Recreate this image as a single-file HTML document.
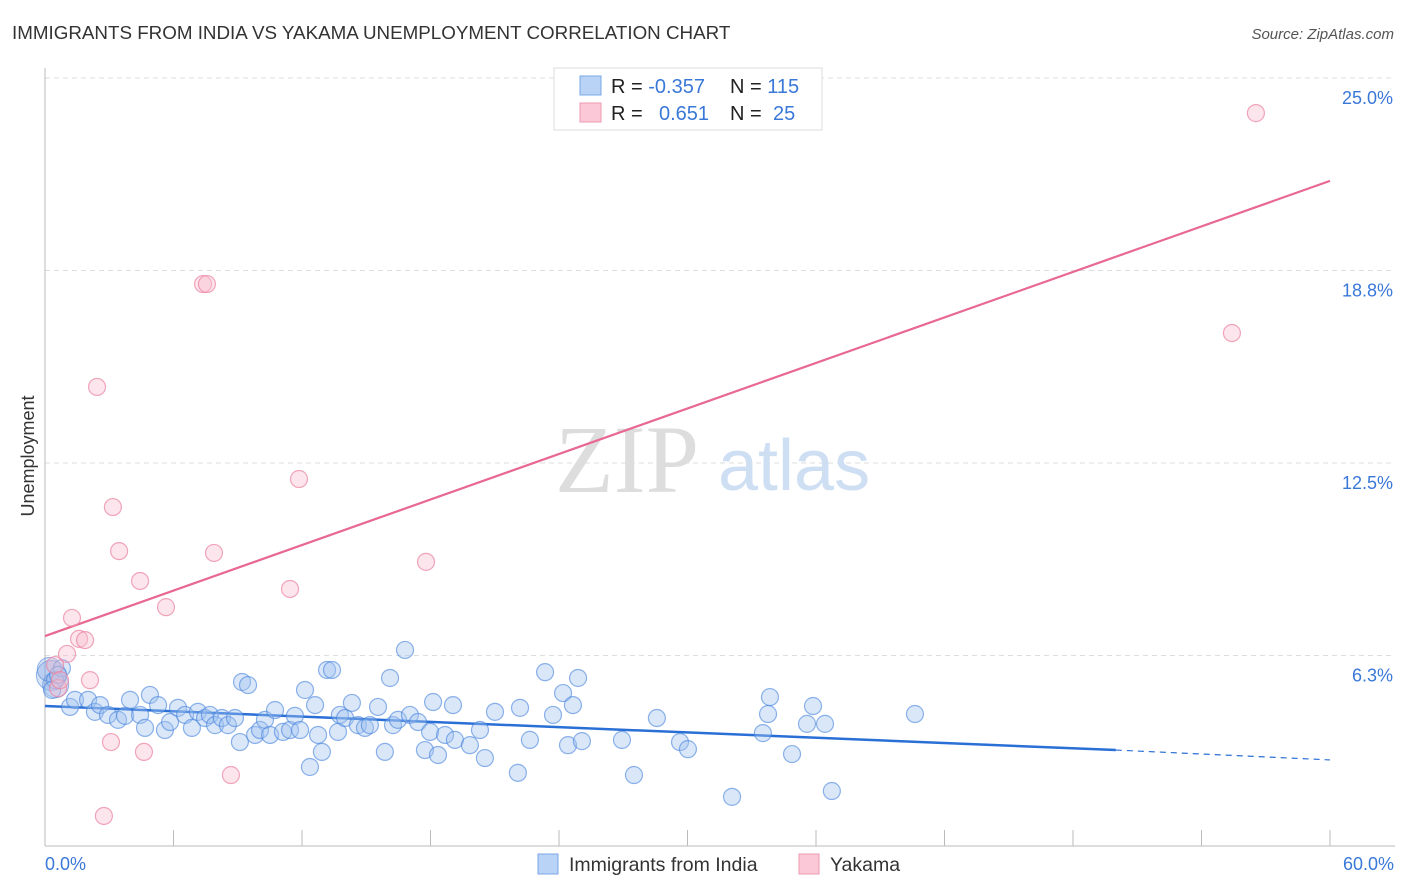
<!DOCTYPE html>
<html><head><meta charset="utf-8">
<style>
body{margin:0;background:#fff;font-family:"Liberation Sans",sans-serif;}
#wrap{position:relative;width:1406px;height:892px;overflow:hidden;}
</style></head>
<body>
<div id="wrap">
<svg id="svg" width="1406" height="892" xmlns="http://www.w3.org/2000/svg">
<text x="12" y="39" font-size="18.8" fill="#333">IMMIGRANTS FROM INDIA VS YAKAMA UNEMPLOYMENT CORRELATION CHART</text>
<text x="1394" y="39" font-size="15" fill="#555" text-anchor="end" font-style="italic">Source: ZipAtlas.com</text>
<text x="34" y="456" font-size="18" fill="#333" text-anchor="middle" transform="rotate(-90 34 456)">Unemployment</text>
<g id="grid"></g>
<text x="555" y="492" font-size="96" fill="#ddd" font-family="Liberation Serif,serif">ZIP</text>
<text x="718" y="490" font-size="72" fill="#cfdff3">atlas</text>
<g id="lines"></g>
<g id="pts"></g>
<g>
<rect x="554" y="68" width="268" height="62" fill="#fff" stroke="#ddd"/>
<rect x="580" y="76" width="21" height="19" fill="#b8d3f5" stroke="#7aa7e6"/>
<rect x="580" y="103" width="21" height="19" fill="#fac8d6" stroke="#ef9ab3"/>
<text x="611" y="93" font-size="20" fill="#222">R = <tspan fill="#3a78d8">-0.357</tspan></text>
<text x="730" y="93" font-size="20" fill="#222">N = <tspan fill="#3a78d8">115</tspan></text>
<text x="611" y="120" font-size="20" fill="#222">R = <tspan fill="#3a78d8" x="659">0.651</tspan></text>
<text x="730" y="120" font-size="20" fill="#222">N = <tspan fill="#3a78d8" x="773">25</tspan></text>
</g>
<g>
<rect x="538" y="854" width="20" height="20" fill="#b8d3f5" stroke="#7aa7e6"/>
<text x="569" y="871" font-size="19.5" fill="#333">Immigrants from India</text>
<rect x="799" y="854" width="20" height="20" fill="#fac8d6" stroke="#ef9ab3"/>
<text x="830" y="871" font-size="19.5" fill="#333">Yakama</text>
</g>
</svg>
</div>
<script>
const yTicks=[6.3,12.5,18.8,25.0];
const yTickVals=[6.25,12.5,18.75,25];
const xTickLabels=["0.0%","60.0%"];
const blueX=[0.47,0.33,0.79,0.61,1.17,1.40,2.01,2.33,2.57,2.94,3.41,3.74,3.97,4.44,4.67,4.90,5.28,5.60,5.84,6.21,6.54,6.86,7.14,7.47,7.70,7.94,8.26,8.54,8.87,9.10,9.20,9.48,9.81,10.04,10.27,10.51,10.74,11.11,11.44,11.67,11.91,12.14,12.37,12.61,12.75,12.93,13.17,13.40,13.68,13.77,14.01,14.33,14.61,14.94,15.17,15.55,15.87,16.11,16.25,16.48,16.81,17.04,17.42,17.74,17.98,18.12,18.35,18.68,19.05,19.14,19.84,20.31,20.54,21.01,22.08,22.18,22.64,23.35,23.72,24.19,24.42,24.65,24.89,25.07,26.94,27.50,28.57,29.65,30.02,32.08,33.52,33.76,33.85,34.88,35.58,35.86,36.42,36.74,40.62];
const blueY=[5.45,5.13,5.84,5.62,4.58,4.81,4.81,4.42,4.64,4.32,4.16,4.29,4.81,4.32,3.90,4.97,4.64,3.83,4.09,4.55,4.32,3.90,4.42,4.22,4.32,3.99,4.22,3.99,4.22,3.44,5.39,5.29,3.67,3.83,4.16,3.67,4.48,3.77,3.83,4.29,3.83,5.13,2.63,4.64,3.67,3.12,5.78,5.78,3.77,4.32,4.22,4.71,3.99,3.90,3.99,4.58,3.12,5.52,3.99,4.16,6.43,4.32,4.09,3.18,3.77,4.74,3.02,3.67,4.64,3.51,3.34,3.83,2.92,4.42,2.44,4.55,3.51,5.71,4.32,5.03,3.34,4.64,5.52,3.47,3.51,2.37,4.22,3.44,3.21,1.66,3.73,4.35,4.90,3.05,4.03,4.61,4.03,1.85,4.35];
const pinkX=[56.54,7.38,7.56,2.43,55.42,11.86,3.17,3.46,7.89,4.44,17.79,11.44,5.65,1.26,1.59,1.87,1.03,2.10,0.47,0.61,3.08,4.62,8.68,2.75,0.70];
const pinkY=[23.86,18.31,18.31,14.97,16.72,11.98,11.07,9.64,9.58,8.67,9.29,8.41,7.82,7.47,6.79,6.75,6.30,5.45,5.94,5.19,3.44,3.12,2.37,1.04,5.45];
const blueTrend=[4.61,3.18,2.86]; // at x=0, 50, 60
const pinkTrend=[6.88,21.66]; // at x=0, 60
const X=v=>45+v/60*1285;
const Y=v=>848-v*30.8;
const NS="http://www.w3.org/2000/svg";
function mk(t,a,p){const e=document.createElementNS(NS,t);for(const k in a)e.setAttribute(k,a[k]);p.appendChild(e);return e;}
const grid=document.getElementById('grid');
yTickVals.forEach((v,i)=>{
 const l=mk('line',{x1:45,x2:1395,y1:Y(v),y2:Y(v),stroke:'#ddd','stroke-dasharray':'5,4'},grid);
 
 
 const t=mk('text',{x:1393,y:Y(v)+26,'font-size':18,fill:'#3a78d8','text-anchor':'end'},grid);
 t.textContent=yTicks[i].toFixed(1)+'%';
 
 
});
const ax=mk('line',{x1:45,x2:45,y1:68,y2:846,stroke:'#bbb'},grid);


const bx=mk('line',{x1:45,x2:1395,y1:846,y2:846,stroke:'#bbb'},grid);


for(let v=0;v<=60;v+=6){
 const t=mk('line',{x1:X(v),x2:X(v),y1:830,y2:846,stroke:'#bbb'},grid);
 
 
}
[[0,'start',45],[60,'end',1394]].forEach((d,i)=>{
 const t=mk('text',{x:d[2],y:870,'font-size':18,fill:'#3a78d8','text-anchor':d[1]},grid);
 t.textContent=xTickLabels[i];
 
 
});
const pts=document.getElementById('pts');
[[0.3,5.6,15],[0.5,5.3,13],[0.2,5.8,12]].forEach(p=>{
 const c=mk('circle',{cx:X(p[0]),cy:Y(p[1]),r:p[2],fill:'rgba(120,160,225,0.3)',stroke:'rgba(70,130,220,0.55)'},pts);
 
 
});
blueX.forEach((x,i)=>{
 const c=mk('circle',{cx:X(x),cy:Y(blueY[i]),r:8.5,fill:'rgba(160,195,240,0.4)',stroke:'rgba(70,130,220,0.6)','stroke-width':1.2},pts);
 
 
});
pinkX.forEach((x,i)=>{
 const c=mk('circle',{cx:X(x),cy:Y(pinkY[i]),r:8.5,fill:'rgba(248,190,208,0.4)',stroke:'rgba(235,130,160,0.7)','stroke-width':1.2},pts);
 
 
});
const lines=document.getElementById('lines');
let ln=mk('line',{x1:X(0),y1:Y(pinkTrend[0]),x2:X(60),y2:Y(pinkTrend[1]),stroke:'#e86891','stroke-width':2.2},lines);


ln=mk('line',{x1:X(0),y1:Y(blueTrend[0]),x2:X(50),y2:Y(blueTrend[1]),stroke:'#2a6fd6','stroke-width':2.5},lines);


ln=mk('line',{x1:X(50),y1:Y(blueTrend[1]),x2:X(60),y2:Y(blueTrend[2]),stroke:'#2a6fd6','stroke-width':1.2,'stroke-dasharray':'6,5'},lines);


</script>
</body></html>
